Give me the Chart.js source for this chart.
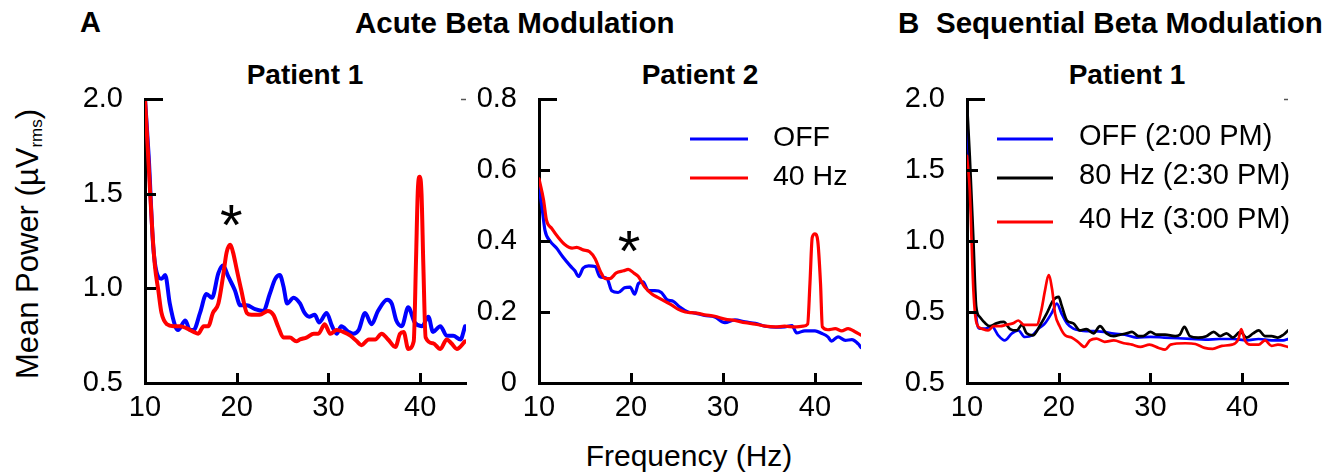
<!DOCTYPE html>
<html>
<head>
<meta charset="utf-8">
<script src="https://cdn.jsdelivr.net/npm/chart.js@4.4.1/dist/chart.umd.min.js"></script>
<style>
  html, body { margin: 0; padding: 0; background: #fff; }
  body { width: 1339px; height: 472px; position: relative; overflow: hidden;
         font-family: "Liberation Sans", Arial, Helvetica, sans-serif; color: #000; }
  canvas { position: absolute; }
  .t { position: absolute; white-space: nowrap; line-height: 1; }
  .b { font-weight: bold; }
</style>
</head>
<body>
<div class="t b" style="left:80px; top:8px; font-size:29px;">A</div>
<div class="t b" style="left:355px; top:8px; font-size:29.5px;">Acute Beta Modulation</div>
<div class="t b" style="left:898px; top:8px; font-size:29.5px;">B</div>
<div class="t b" style="left:936px; top:8px; font-size:29.5px;">Sequential Beta Modulation</div>

<div class="t b" style="left:305px; top:61px; font-size:28px; transform:translateX(-50%);">Patient 1</div>
<div class="t b" style="left:700px; top:61px; font-size:28px; transform:translateX(-50%);">Patient 2</div>
<div class="t b" style="left:1127px; top:61px; font-size:28px; transform:translateX(-50%);">Patient 1</div>

<div class="t" style="left:28px; top:244px; font-size:31px; transform:translate(-50%,-50%) rotate(-90deg);">Mean Power (µV<sub style="font-size:17px; vertical-align:-4px;">rms</sub>)</div>
<div class="t" style="left:689px; top:441px; font-size:30px; transform:translateX(-50%);">Frequency (Hz)</div>

<canvas id="cA1" width="428" height="360" style="left:50px; top:80px;"></canvas>
<canvas id="cA2" width="420" height="360" style="left:460px; top:80px;"></canvas>
<canvas id="cB"  width="440" height="360" style="left:890px; top:80px;"></canvas>

<script>
// ---------------- DATA ----------------
const xTicks = [10, 20, 30, 40];

const yTicksA1 = [0.5, 1.0, 1.5, 2.0];
const yLabelsA1 = ['0.5', '1.0', '1.5', '2.0'];
const yTicksA2 = [0, 0.2, 0.4, 0.6, 0.8];
const yLabelsA2 = ['0', '0.2', '0.4', '0.6', '0.8'];
const yTicksB = [0, 0.5, 1.0, 1.5, 2.0];
const yLabelsB = ['0.5', '0.5', '1.0', '1.5', '2.0'];

const labelsA = ['OFF', '40 Hz'];
const labelsB = ['OFF (2:00 PM)', '80 Hz (2:30 PM)', '40 Hz (3:00 PM)'];

// Panel A, Patient 1
const freqA1Off = [10.0,10.4,10.9,11.45,11.8,12.2,12.7,13.3,13.6,14.4,14.9,15.3,16.0,16.7,17.3,18.0,18.5,19.1,19.8,20.4,21.1,22.0,22.9,23.6,24.2,24.7,25.1,25.5,26.2,26.9,27.4,27.9,28.5,29.0,29.8,30.4,30.9,31.4,32.2,32.7,33.3,34.0,34.7,35.4,36.4,36.9,37.4,38.0,38.7,39.4,40.2,40.9,41.4,42.2,42.9,43.6,44.4,44.9];
const powA1Off  = [2.00,1.70,1.22,1.06,1.05,1.07,0.92,0.80,0.78,0.83,0.78,0.78,0.87,0.97,0.95,1.08,1.12,1.06,0.99,0.91,0.91,0.89,0.88,0.97,1.05,1.07,1.01,0.92,0.95,0.92,0.87,0.85,0.86,0.82,0.87,0.80,0.76,0.80,0.77,0.76,0.78,0.87,0.81,0.88,0.94,0.92,0.83,0.80,0.90,0.82,0.80,0.85,0.77,0.80,0.75,0.75,0.73,0.80];
const freqA1Hz40 = [10.0,10.4,10.8,11.1,11.45,11.8,12.4,13.1,13.8,14.5,15.3,15.8,16.4,16.9,17.4,18.0,18.5,18.9,19.3,19.6,20.0,20.5,21.1,21.6,22.5,23.4,24.0,24.5,25.1,25.8,26.5,26.9,27.6,28.4,28.9,29.6,30.2,30.9,31.6,32.4,33.1,33.6,34.4,35.1,35.8,36.5,37.3,37.8,38.2,38.7,39.3,39.55,39.75,39.95,40.15,40.35,40.6,41.4,42.2,42.9,43.4,44.0,44.9];
const powA1Hz40  = [2.00,1.65,1.30,1.11,0.99,0.87,0.81,0.80,0.80,0.79,0.77,0.76,0.80,0.80,0.87,0.92,1.06,1.19,1.23,1.19,1.10,0.99,0.87,0.86,0.86,0.88,0.86,0.80,0.74,0.74,0.72,0.73,0.74,0.76,0.76,0.81,0.76,0.78,0.77,0.75,0.72,0.70,0.73,0.73,0.76,0.73,0.69,0.76,0.77,0.68,0.72,1.15,1.52,1.59,1.50,1.12,0.74,0.71,0.68,0.73,0.71,0.68,0.72];

// Panel A, Patient 2
const freqA2Off = [10.0,10.3,10.65,11.2,11.9,12.6,13.4,13.9,14.3,14.8,15.4,16.1,16.6,17.4,17.9,18.6,19.3,19.9,20.4,20.8,21.3,21.9,22.6,23.3,23.9,24.6,25.3,26.2,27.0,28.0,29.1,30.2,31.3,32.4,33.5,34.6,35.7,36.7,37.5,38.0,38.9,40.0,40.7,41.4,41.8,42.5,43.3,44.0,44.7,45.0];
const powA2Off  = [0.55,0.50,0.43,0.40,0.38,0.355,0.33,0.316,0.30,0.324,0.33,0.328,0.30,0.294,0.26,0.255,0.268,0.27,0.25,0.28,0.285,0.26,0.26,0.255,0.235,0.23,0.214,0.20,0.197,0.19,0.186,0.17,0.178,0.172,0.168,0.16,0.157,0.158,0.162,0.141,0.147,0.147,0.14,0.13,0.118,0.13,0.12,0.122,0.11,0.10];
const freqA2Hz40 = [10.0,10.5,10.8,11.4,12.1,12.8,13.6,14.1,14.8,15.5,16.1,16.7,17.2,17.7,18.4,19.2,19.7,20.3,20.8,21.5,22.3,23.0,23.7,24.4,25.1,25.9,26.6,27.3,28.0,29.1,30.2,31.3,32.4,33.5,34.6,35.7,36.7,37.8,38.7,39.2,39.45,39.7,40.0,40.3,40.6,40.8,41.4,42.2,42.9,43.6,44.3,45.0];
const powA2Hz40  = [0.575,0.515,0.46,0.435,0.41,0.39,0.38,0.382,0.375,0.37,0.35,0.313,0.294,0.294,0.31,0.316,0.32,0.31,0.30,0.27,0.25,0.24,0.23,0.22,0.208,0.20,0.198,0.196,0.192,0.188,0.18,0.176,0.17,0.166,0.16,0.158,0.16,0.158,0.16,0.166,0.28,0.41,0.42,0.40,0.28,0.158,0.15,0.153,0.147,0.153,0.145,0.135];

// Panel B, Patient 1 (values in the panel's own axis units)
const freqBOff = [10.0,10.4,10.8,11.05,11.4,12.0,12.7,13.4,14.1,14.9,15.6,16.3,17.1,17.8,18.5,19.3,19.8,20.3,20.9,21.6,22.3,23.0,23.8,24.9,26.0,27.2,28.5,30.0,31.5,33.0,34.5,36.0,37.5,39.0,40.5,41.8,43.2,44.5,45.0];
const powBOff  = [1.90,1.30,0.70,0.44,0.383,0.383,0.40,0.336,0.30,0.35,0.37,0.324,0.335,0.383,0.42,0.50,0.56,0.49,0.42,0.383,0.37,0.365,0.365,0.36,0.348,0.34,0.32,0.325,0.32,0.315,0.31,0.305,0.31,0.31,0.30,0.31,0.30,0.30,0.31];
const freqBHz80 = [10.0,10.3,10.7,11.0,11.4,12.0,12.5,13.2,14.0,14.7,15.4,16.0,16.5,17.2,18.0,18.7,19.4,20.0,20.3,20.9,21.6,22.3,23.0,23.8,24.5,25.2,26.0,26.7,27.4,28.0,28.7,29.2,30.0,30.7,31.6,32.7,33.2,33.7,34.3,35.2,36.1,36.9,37.6,38.3,39.0,39.8,40.5,41.2,41.8,42.5,43.2,43.9,44.5,45.0];
const powBHz80  = [1.97,1.60,1.00,0.54,0.465,0.42,0.40,0.42,0.43,0.38,0.37,0.41,0.35,0.336,0.41,0.49,0.583,0.606,0.55,0.44,0.42,0.37,0.38,0.35,0.40,0.35,0.33,0.34,0.35,0.36,0.33,0.33,0.36,0.34,0.34,0.33,0.34,0.395,0.33,0.32,0.33,0.36,0.33,0.35,0.32,0.36,0.32,0.35,0.37,0.33,0.33,0.32,0.34,0.37];
const freqBHz40 = [10.0,10.3,10.7,11.05,11.6,12.3,12.9,13.6,14.3,15.0,15.6,16.2,16.9,17.6,18.1,18.5,18.9,19.3,19.6,20.1,20.7,21.4,22.1,22.8,23.4,24.1,25.0,26.0,27.1,28.0,28.9,29.9,30.9,31.6,32.2,33.8,34.9,35.9,36.8,37.8,38.9,39.6,39.9,40.3,40.9,41.8,42.5,43.2,43.9,45.0];
const powBHz40  = [1.60,1.36,0.65,0.42,0.383,0.37,0.40,0.40,0.41,0.42,0.44,0.41,0.41,0.41,0.51,0.65,0.76,0.65,0.49,0.40,0.336,0.32,0.29,0.254,0.30,0.313,0.29,0.30,0.28,0.27,0.254,0.27,0.247,0.235,0.27,0.28,0.275,0.247,0.24,0.262,0.27,0.31,0.38,0.30,0.27,0.27,0.30,0.262,0.27,0.254];

// Star annotations (frequency, value)
const starA1 = [19.4, 1.378];
const starA2 = [19.8, 0.395];

// ---------------- RENDERING ----------------
const FONT = '"Liberation Sans", Arial, Helvetica, sans-serif';
const BLUE = '#0000ff', RED = '#ff0000', BLACK = '#000000';

function zip(fx, fy) { return fx.map((f, i) => ({ x: f, y: fy[i] })); }

const decorPlugin = {
  id: 'decor',
  afterDraw(chart, args, o) {
    const { ctx, chartArea: a, scales: { x, y } } = chart;
    ctx.save();
    ctx.strokeStyle = '#000';
    ctx.lineWidth = o.tickWidth;
    ctx.beginPath();
    x.ticks.forEach(t => {
      if (t.value === x.min) return;
      const px = Math.round(x.getPixelForValue(t.value)) + 0.5;
      ctx.moveTo(px, a.bottom);
      ctx.lineTo(px, a.bottom - o.xTickLen);
    });
    y.ticks.forEach(t => {
      if (t.value === y.min) return;
      const py = Math.round(y.getPixelForValue(t.value)) + 0.5;
      const len = t.value === y.max ? o.topTickLen : o.yTickLen;
      ctx.moveTo(a.left, py);
      ctx.lineTo(a.left + len, py);
    });
    ctx.stroke();

    if (o.cornerDash) {
      ctx.strokeStyle = '#555';
      ctx.lineWidth = 1.5;
      ctx.beginPath();
      ctx.moveTo(a.right - o.cornerDash, a.top + 0.5);
      ctx.lineTo(a.right, a.top + 0.5);
      ctx.stroke();
    }

    if (o.star) {
      ctx.fillStyle = '#000';
      ctx.font = o.starFont;
      ctx.textAlign = 'center';
      ctx.textBaseline = 'alphabetic';
      ctx.fillText('*', x.getPixelForValue(o.star[0]), y.getPixelForValue(o.star[1]) + o.starShift);
    }

    if (o.legend) {
      const L = o.legend;
      L.items.forEach(it => {
        const ds = chart.data.datasets[it.ds];
        const yy = a.top + it.dy;
        ctx.strokeStyle = ds.borderColor;
        ctx.lineWidth = L.lineWidth;
        ctx.lineCap = 'butt';
        ctx.beginPath();
        ctx.moveTo(a.left + L.x0, yy);
        ctx.lineTo(a.left + L.x1, yy);
        ctx.stroke();
        ctx.fillStyle = '#000';
        ctx.font = L.font;
        ctx.textAlign = 'left';
        ctx.textBaseline = 'middle';
        ctx.fillText(ds.label, a.left + L.tx, yy + L.textDy);
      });
    }
    ctx.restore();
  }
};

function lineDs(label, fx, fy, color, width, order) {
  return {
    label, data: zip(fx, fy), borderColor: color, backgroundColor: color,
    borderWidth: width, pointRadius: 0, fill: false,
    cubicInterpolationMode: 'monotone', borderJoinStyle: 'round', borderCapStyle: 'round',
    order
  };
}

function makeChart(id, cfg) {
  new Chart(document.getElementById(id), {
    type: 'line',
    data: { datasets: cfg.datasets },
    plugins: [decorPlugin],
    options: {
      responsive: false, animation: false, devicePixelRatio: 1,
      layout: { autoPadding: false, padding: { left: 0, top: 19, right: cfg.padRight, bottom: 0 } },
      plugins: {
        legend: { display: false }, tooltip: { enabled: false }, title: { display: false },
        decor: {
          tickWidth: 3, xTickLen: 10, yTickLen: 11, topTickLen: 18,
          cornerDash: cfg.cornerDash,
          star: cfg.star, starFont: '58px ' + FONT, starShift: 28,
          legend: cfg.legend
        }
      },
      scales: {
        x: {
          type: 'linear', min: 10, max: 45,
          afterBuildTicks: s => { s.ticks = xTicks.map(v => ({ value: v })); },
          afterFit: s => { s.height = 57; s.paddingLeft = 0; s.paddingRight = 0; },
          grid: { display: false, drawTicks: false },
          border: { display: true, color: '#000', width: 3 },
          ticks: { color: '#000', padding: 8, maxRotation: 0, autoSkip: false,
                   font: { family: FONT, size: 29 }, callback: v => String(v) }
        },
        y: {
          type: 'linear', min: cfg.yMin, max: cfg.yMax,
          afterBuildTicks: s => { s.ticks = cfg.yTicks.map(v => ({ value: v })); },
          afterFit: s => { s.width = cfg.yW; s.paddingTop = 0; s.paddingBottom = 0; },
          grid: { display: false, drawTicks: false },
          border: { display: true, color: '#000', width: 3 },
          ticks: { color: '#000', padding: 22, autoSkip: false,
                   font: { family: FONT, size: 29 },
                   callback: (v, i) => cfg.yLabels[i] }
        }
      }
    }
  });
}

makeChart('cA1', {
  yMin: 0.5, yMax: 2.0, yTicks: yTicksA1, yLabels: yLabelsA1, yW: 95, padRight: 12,
  star: starA1, cornerDash: 5,
  datasets: [
    lineDs(labelsA[0], freqA1Off, powA1Off, BLUE, 4, 2),
    lineDs(labelsA[1], freqA1Hz40, powA1Hz40, RED, 4, 1)
  ]
});

makeChart('cA2', {
  yMin: 0, yMax: 0.8, yTicks: yTicksA2, yLabels: yLabelsA2, yW: 79, padRight: 19,
  star: starA2,
  legend: { x0: 151, x1: 209, tx: 234, lineWidth: 3, textDy: -1, font: '28.5px ' + FONT,
            items: [{ ds: 0, dy: 40 }, { ds: 1, dy: 79 }] },
  datasets: [
    lineDs(labelsA[0], freqA2Off, powA2Off, BLUE, 3.2, 2),
    lineDs(labelsA[1], freqA2Hz40, powA2Hz40, RED, 3.2, 1)
  ]
});

makeChart('cB', {
  yMin: 0, yMax: 2.0, yTicks: yTicksB, yLabels: yLabelsB, yW: 77, padRight: 42,
  cornerDash: 4,
  legend: { x0: 30, x1: 86, tx: 112, lineWidth: 3, textDy: -2, font: '29px ' + FONT,
            items: [{ ds: 0, dy: 40 }, { ds: 1, dy: 79 }, { ds: 2, dy: 123 }] },
  datasets: [
    lineDs(labelsB[0], freqBOff, powBOff, BLUE, 2.7, 3),
    lineDs(labelsB[1], freqBHz80, powBHz80, BLACK, 2.7, 2),
    lineDs(labelsB[2], freqBHz40, powBHz40, RED, 2.7, 1)
  ]
});
</script>
</body>
</html>
